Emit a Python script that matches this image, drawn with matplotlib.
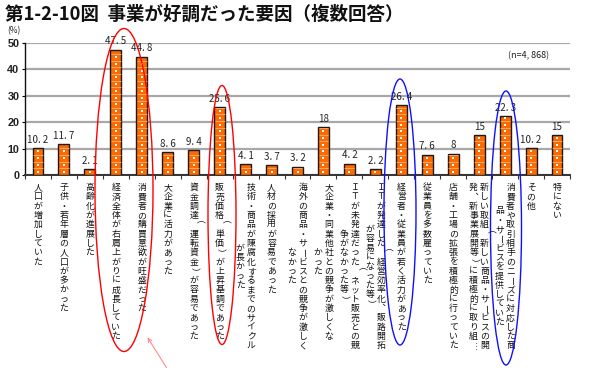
import numpy as np
import matplotlib
matplotlib.use("Agg")
import matplotlib.pyplot as plt
from matplotlib.patches import Ellipse, FancyArrowPatch

plt.rcParams['font.family'] = ['Noto Sans CJK JP', 'DejaVu Sans']

title = "第1-2-10図  事業が好調だった要因（複数回答）"
n_note = "(n=4, 868)"
unit = "(%)"

categories = [
    "人口が増加していた",
    "子供・若年層の人口が多かった",
    "高齢化が進展した",
    "経済全体が右肩上がりに成長していた",
    "消費者の購買意欲が旺盛だった",
    "大企業に活力があった",
    "資金調達（運転資金）が容易であった",
    "販売価格（単価）が上昇基調であった",
    "技術・商品が陳腐化するまでのサイクル|が長かった",
    "人材の採用が容易であった",
    "海外の商品・サービスとの競争が激しく|なかった",
    "大企業・同業他社との競争が激しくな|かった",
    "ＩＴが未発達だった（ネット販売との競|争がなかった等）",
    "ＩＴが発達した（経営効率化、販路開拓|が容易になった等）",
    "経営者・従業員が若く活力があった",
    "従業員を多数雇っていた",
    "店舗・工場の拡張を積極的に行っていた",
    "新しい取組（新しい商品・サービスの開|発、新事業展開等）に積極的に取り組…",
    "消費者や取引相手のニーズに対応した商|品・サービスを提供していた",
    "その他",
    "特にない",
]
values = [10.2, 11.7, 2.1, 47.5, 44.8, 8.6, 9.4, 25.6, 4.1, 3.7, 3.2, 18,
          4.2, 2.2, 26.4, 7.6, 8, 15, 22.3, 10.2, 15]
yticks = [0, 10, 20, 30, 40, 50]

W, H = 600, 372
fig = plt.figure(figsize=(6, 3.72), dpi=100)
ax = fig.add_axes([25 / W, 1 - 175 / H, 545 / W, 132 / H])

x = np.arange(len(values))
ax.set_xlim(-0.5, len(values) - 0.5)
ax.set_ylim(0, 50)

# gridlines
ax.set_yticks(yticks)
ax.yaxis.grid(True, color='#A8A8A8', linewidth=1.6)
ax.set_axisbelow(True)

bars = ax.bar(x, values, width=0.42, color='#FF6A00', edgecolor='#1a1a1a',
              linewidth=1.0, zorder=3)

# bar pattern (light stripes and dots)
step = 2.55
for i, v in enumerate(values):
    lv = np.arange(step, v, step)
    ax.hlines(lv, i - 0.19, i + 0.19, color='#FFC08A', linewidth=0.5, zorder=4)
    dv = np.arange(step / 2, v - 0.5, step)
    ax.scatter(np.full(len(dv), i), dv, s=2.4, marker='s', color='white',
               linewidths=0, zorder=5)

# value labels
for i, v in enumerate(values):
    lab = f"{v:g}".replace('.', '. ')
    ax.annotate(lab, (i, v), xytext=(0, 3.5), textcoords='offset pixels',
                ha='center', va='bottom', fontsize=7, color='#222222')

# spines / ticks
for s in ['top', 'right']:
    ax.spines[s].set_visible(False)
ax.spines['left'].set_color('#111111')
ax.spines['left'].set_linewidth(1.0)
ax.spines['bottom'].set_color('#333333')
ax.spines['bottom'].set_linewidth(1.4)
ax.set_xticks(x)
ax.set_xticklabels([])
ax.tick_params(axis='x', which='major', length=0)
ax.set_xticks(np.arange(-0.5, len(values), 1), minor=True)
ax.tick_params(axis='x', which='minor', length=3, width=0.8, color='#333333',
               direction='out')
ax.tick_params(axis='y', length=2, width=0.8, pad=2)
for t in ax.get_yticklabels():
    t.set_fontfamily('Liberation Sans')
    t.set_fontweight('bold')
    t.set_fontsize(7.8)
    t.set_color('#222222')

# vertical category labels
pitch = 9.3
colgap = 11
top = 8
rot_chars = set('（）ー…')
vert_forms = {'、': '\ufe11', '。': '\ufe12'}
for i, lab in enumerate(categories):
    cols = lab.split('|')
    M = max(len(c) for c in cols)
    nc = len(cols)
    for k, col in enumerate(cols):
        dx = (nc - 1) / 2 * colgap - k * colgap
        L = len(col)
        for j, ch in enumerate(col):
            dy = -top - M * pitch / 2 + (L / 2 - j - 0.5) * pitch
            rot = 0
            if ch in rot_chars:
                rot = -90
            ch = vert_forms.get(ch, ch)
            ax.annotate(ch, (i, 0), xycoords=('data', 'axes fraction'),
                        xytext=(dx, dy), textcoords='offset pixels',
                        ha='center', va='center', fontsize=6.4, rotation=rot,
                        color='#111111', annotation_clip=False)

# texts
fig.text(5 / W, 1 - 14 / H, title, fontsize=13.3, fontweight='bold',
         ha='left', va='center', color='#111111')
fig.text(14 / W, 1 - 31 / H, unit, fontsize=6, ha='center', va='center',
         color='#222222')
fig.text(529 / W, 1 - 56 / H, n_note, fontsize=6.5, ha='center', va='center',
         color='#222222')

# annotation ellipses
def ell(cx, cy, w, h, color):
    e = Ellipse((cx / W, 1 - cy / H), w / W, h / H, transform=fig.transFigure,
                fill=False, edgecolor=color, linewidth=1.0, zorder=10)
    fig.add_artist(e)

ell(124, 190, 58, 323, '#FF0000')
ell(222, 215, 28, 259, '#FF0000')
ell(400, 212, 32, 266, '#1010FF')
ell(506, 228, 31, 274, '#1010FF')

arr = FancyArrowPatch((168 / W, 1 - 370 / H), (146 / W, 1 - 335 / H),
                      transform=fig.transFigure, arrowstyle='->',
                      mutation_scale=7, color='#FF8C8C', linewidth=0.8)
fig.add_artist(arr)

fig.savefig('out.png', dpi=100)
